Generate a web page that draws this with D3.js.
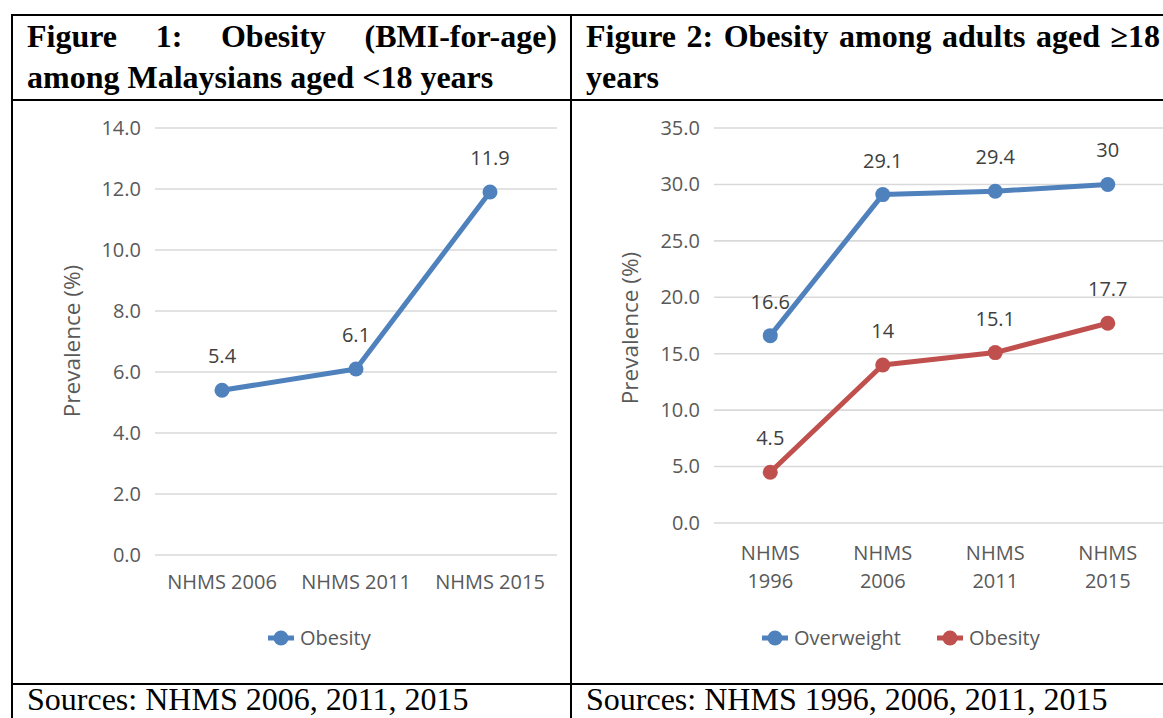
<!DOCTYPE html>
<html>
<head>
<meta charset="utf-8">
<script src="https://cdn.jsdelivr.net/npm/d3@7"></script>
<style>
  html, body { margin: 0; padding: 0; background: #fff; }
  svg { display: block; }
</style>
</head>
<body>
<svg id="c" width="1163" height="718"></svg>
<script>
// ---- Data ----
const fig1Categories = ["NHMS 2006", "NHMS 2011", "NHMS 2015"];
const fig1Obesity = [5.4, 6.1, 11.9];
const fig1Ticks = [0, 2, 4, 6, 8, 10, 12, 14];

const fig2Categories = [["NHMS", "1996"], ["NHMS", "2006"], ["NHMS", "2011"], ["NHMS", "2015"]];
const fig2Overweight = [16.6, 29.1, 29.4, 30];
const fig2Obesity = [4.5, 14, 15.1, 17.7];
const fig2Ticks = [0, 5, 10, 15, 20, 25, 30, 35];

const fig1TitleLines = ["Figure 1: Obesity (BMI-for-age)", "among Malaysians aged <18 years"];
const fig2TitleLines = ["Figure 2: Obesity among adults aged \u226518", "years"];
const fig1Source = "Sources: NHMS 2006, 2011, 2015";
const fig2Source = "Sources: NHMS 1996, 2006, 2011, 2015";

// ---- Styles ----
const BLUE = "#4f81bd", RED = "#c0504d";
const AXIS_FONT = "'Open Sans', sans-serif";
const SERIF = "'Liberation Serif', 'Times New Roman', serif";
const HEAD_SIZE = 32;
const svg = d3.select("#c");

// ---- Table borders ----
const tbl = svg.append("g").attr("stroke", "#000").attr("stroke-width", 2);
tbl.append("line").attr("x1", 11).attr("x2", 1163).attr("y1", 15).attr("y2", 15);
tbl.append("line").attr("x1", 11).attr("x2", 1163).attr("y1", 100).attr("y2", 100);
tbl.append("line").attr("x1", 11).attr("x2", 1163).attr("y1", 684).attr("y2", 684);
tbl.append("line").attr("x1", 12).attr("x2", 12).attr("y1", 14).attr("y2", 718);
tbl.append("line").attr("x1", 571).attr("x2", 571).attr("y1", 14).attr("y2", 718);

// ---- Header text ----
function headerLine(x0, x1, y, text, justify) {
  const g = svg.append("g").attr("font-family", SERIF).attr("font-weight", "bold")
    .attr("font-size", HEAD_SIZE).attr("fill", "#000");
  if (!justify) {
    g.append("text").attr("x", x0).attr("y", y).text(text);
    return;
  }
  const words = text.split(" ");
  const nodes = words.map(w => g.append("text").attr("y", y).text(w));
  const widths = nodes.map(n => n.node().getComputedTextLength());
  const total = d3.sum(widths);
  const gap = Math.max(6, (x1 - x0 - total) / (words.length - 1));
  let x = x0;
  nodes.forEach((n, i) => { n.attr("x", x); x += widths[i] + gap; });
}
headerLine(27, 557, 47, fig1TitleLines[0], true);
headerLine(27, 557, 88, fig1TitleLines[1], false);
headerLine(586, 1160, 47, fig2TitleLines[0], true);
headerLine(586, 1160, 88, fig2TitleLines[1], false);

svg.append("text").attr("x", 27).attr("y", 710).attr("font-family", SERIF)
  .attr("font-size", HEAD_SIZE).attr("fill", "#000").text(fig1Source);
svg.append("text").attr("x", 586).attr("y", 710).attr("font-family", SERIF)
  .attr("font-size", HEAD_SIZE).attr("fill", "#000").text(fig2Source);

// ---- Chart builder ----
function chart(opts) {
  const g = svg.append("g");
  const x = d3.scalePoint().domain(d3.range(opts.categories.length))
    .range([opts.x0, opts.x1]).padding(0.5);
  const y = d3.scaleLinear().domain([0, opts.ticks[opts.ticks.length - 1]])
    .range([opts.y0, opts.y1]);

  // gridlines
  g.append("g").selectAll("line").data(opts.ticks).join("line")
    .attr("x1", opts.x0).attr("x2", opts.x1)
    .attr("y1", d => y(d)).attr("y2", d => y(d))
    .attr("stroke", "#d9d9d9").attr("stroke-width", 1.6);

  // y axis labels
  const yAxis = d3.axisLeft(y).tickValues(opts.ticks).tickFormat(d3.format(".1f"))
    .tickSize(0).tickPadding(opts.x0 - opts.yLabelX);
  const ya = g.append("g").attr("transform", `translate(${opts.x0},0)`).call(yAxis);
  ya.select(".domain").remove();
  ya.selectAll("text").attr("font-family", AXIS_FONT).attr("font-size", 20)
    .attr("fill", "#595959");

  // y title
  g.append("text").attr("transform", `translate(${opts.titleX},${opts.titleY}) rotate(-90)`)
    .attr("text-anchor", "middle").attr("dy", "0.35em")
    .attr("font-family", AXIS_FONT).attr("font-size", 22.5).attr("fill", "#595959")
    .text("Prevalence (%)");

  // x labels
  const xl = g.append("g").selectAll("text").data(opts.categories).join("text")
    .attr("x", (d, i) => x(i)).attr("text-anchor", "middle")
    .attr("font-family", AXIS_FONT).attr("font-size", 20).attr("fill", "#595959");
  xl.each(function(d) {
    const lines = Array.isArray(d) ? d : [d];
    const t = d3.select(this);
    lines.forEach((ln, k) => {
      t.append("tspan").attr("x", t.attr("x"))
        .attr("y", opts.xLabelY + k * 28).text(ln);
    });
  });

  // series
  const line = d3.line().x((d, i) => x(i)).y(d => y(d));
  opts.series.forEach(s => {
    g.append("path").datum(s.values).attr("d", line).attr("fill", "none")
      .attr("stroke", s.color).attr("stroke-width", 5).attr("stroke-linejoin", "round");
    g.append("g").selectAll("circle").data(s.values).join("circle")
      .attr("cx", (d, i) => x(i)).attr("cy", d => y(d)).attr("r", 7.5).attr("fill", s.color);
    g.append("g").selectAll("text").data(s.values).join("text")
      .attr("x", (d, i) => x(i)).attr("y", d => y(d) - 27)
      .attr("text-anchor", "middle").attr("font-family", AXIS_FONT).attr("font-size", 20)
      .attr("fill", "#404040").text(d => String(d));
  });

  // legend
  opts.series.forEach((s, i) => {
    const cx = opts.legendX[i];
    const lg = g.append("g");
    lg.append("line").attr("x1", cx - 13).attr("x2", cx + 13)
      .attr("y1", opts.legendY).attr("y2", opts.legendY)
      .attr("stroke", s.color).attr("stroke-width", 5);
    lg.append("circle").attr("cx", cx).attr("cy", opts.legendY).attr("r", 7.5).attr("fill", s.color);
    lg.append("text").attr("x", cx + 19).attr("y", opts.legendY).attr("dy", "0.35em")
      .attr("font-family", AXIS_FONT).attr("font-size", 20).attr("fill", "#595959")
      .text(s.name);
  });
}

chart({
  categories: fig1Categories, ticks: fig1Ticks,
  x0: 155, x1: 557, y0: 555, y1: 128, yLabelX: 141,
  titleX: 72, titleY: 341, xLabelY: 589,
  series: [{ name: "Obesity", values: fig1Obesity, color: BLUE }],
  legendX: [281], legendY: 638
});

chart({
  categories: fig2Categories, ticks: fig2Ticks,
  x0: 714, x1: 1164, y0: 523, y1: 128, yLabelX: 700,
  titleX: 630, titleY: 328, xLabelY: 560,
  series: [
    { name: "Overweight", values: fig2Overweight, color: BLUE },
    { name: "Obesity", values: fig2Obesity, color: RED }
  ],
  legendX: [775, 950], legendY: 638
});
</script>
</body>
</html>
